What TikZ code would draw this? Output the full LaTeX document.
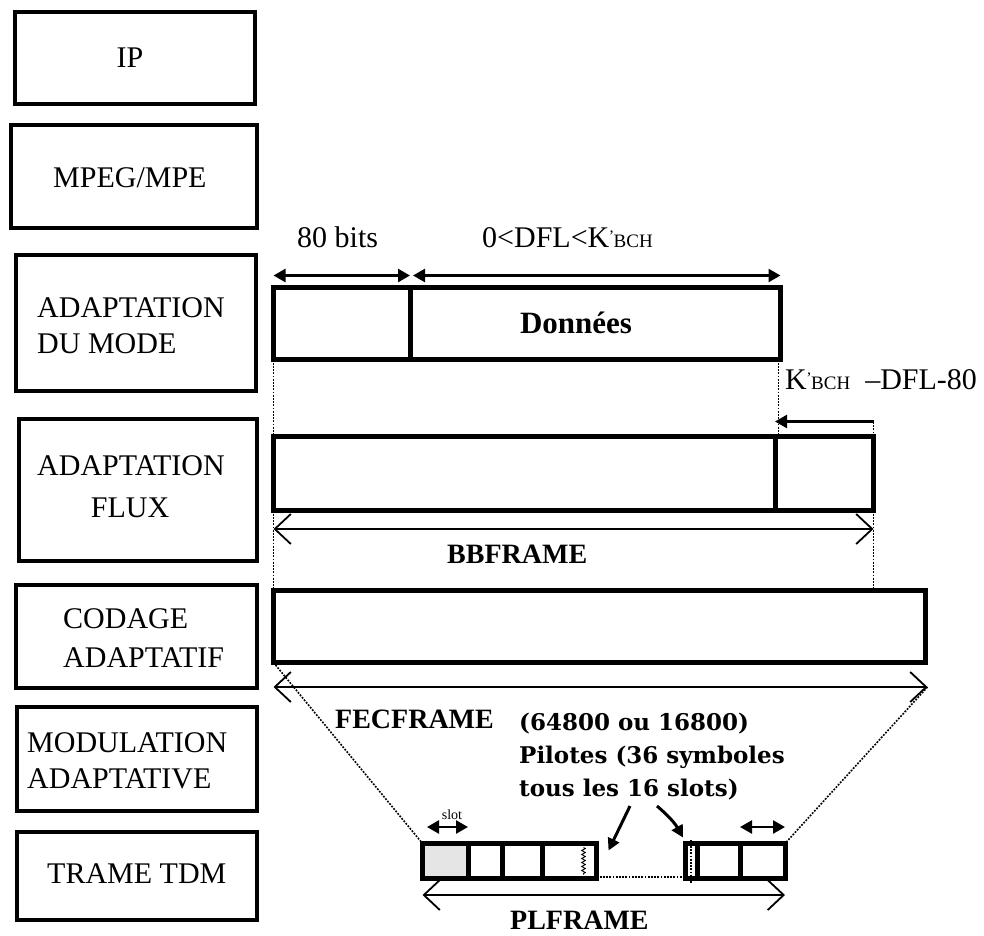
\documentclass[tikz,border=0pt]{standalone}
\usepackage{fontspec}
\setmainfont{Liberation Serif}
\newfontfamily\pilfont{DejaVu Serif}
\usetikzlibrary{arrows.meta,decorations.pathmorphing}
\newcommand{\kbch}{K\kern-0.5pt\raisebox{6pt}{\fontsize{16}{16}\selectfont'}\kern-0.5pt{\fontsize{19}{20}\selectfont BCH}}
\begin{document}
\begin{tikzpicture}[x=1pt,y=-1pt,
  lbox/.style={draw, line width=4.5pt, inner sep=0pt, outer sep=0pt},
  frm/.style={draw, line width=5pt, inner sep=0pt, outer sep=0pt},
  lt/.style={font=\fontsize{30}{36}\selectfont, inner sep=0pt, anchor=base west},
  bt/.style={font=\fontsize{28}{34}\selectfont\bfseries, inner sep=0pt, anchor=base west},
  pt/.style={font=\pilfont\fontsize{23}{33}\selectfont\bfseries, inner sep=0pt, anchor=base west},
  dimarr/.style={line width=2.5pt, {Triangle[length=12pt,width=13pt]}-{Triangle[length=12pt,width=13pt]}},
  openarr/.style={line width=1.8pt, {Straight Barb[length=16pt,width=30pt,line width=1.8pt]}-{Straight Barb[length=16pt,width=30pt,line width=1.8pt]}},
  ptr/.style={line width=3pt, -{Triangle[length=12pt,width=12pt]}},
  dotln/.style={line width=1.6pt, dash pattern=on 1.8pt off 1.4pt},
]
\useasboundingbox (0,0) rectangle (984,935);

% ---- left column of layers
\node[lbox, minimum width=240pt, minimum height=92pt]  (ip)   at (135,58) {};
\node[lbox, minimum width=246pt, minimum height=103pt] (mpeg) at (134,176.5) {};
\node[lbox, minimum width=240pt, minimum height=136pt] (mode) at (136,323) {};
\node[lbox, minimum width=238pt, minimum height=142pt] (flux) at (138,490) {};
\node[lbox, minimum width=241pt, minimum height=103pt] (cod)  at (136.5,636.5) {};
\node[lbox, minimum width=240pt, minimum height=104pt] (modu) at (137,759) {};
\node[lbox, minimum width=240pt, minimum height=88pt]  (tdm)  at (137,876) {};

\node[lt, anchor=base] (tip) at (130,67) {IP};
\node[lt] (tmpeg) at (53,187) {MPEG/MPE};
\node[lt] (tmode1) at (37,317) {ADAPTATION};
\node[lt] (tmode2) at (37,353) {DU MODE};
\node[lt] (tflux1) at (37,475) {ADAPTATION};
\node[lt, anchor=base] (tflux2) at (130,517) {FLUX};
\node[lt] (tcod1) at (63,628) {CODAGE};
\node[lt] (tcod2) at (63,667) {ADAPTATIF};
\node[lt] (tmod1) at (27,752) {MODULATION};
\node[lt] (tmod2) at (27,788) {ADAPTATIVE};
\node[lt] (ttdm) at (47,883) {TRAME TDM};

% ---- mode adaptation frame
\node[frm, minimum width=136.5pt, minimum height=72pt] (hdr) at (341.75,323.5) {};
\node[frm, minimum width=370.5pt, minimum height=72pt] (don) at (595.25,323.5) {};
\node[font=\fontsize{31}{36}\selectfont\bfseries, inner sep=0pt, anchor=base] (tdon) at (576,333) {Données};

\node[lt] (t80) at (297,247) {80 bits};
\node[lt] (tdfl) at (482,247) {0<DFL<\kbch};
\draw[dimarr] ([yshift=12pt]hdr.north west) -- ([yshift=12pt]hdr.north east);
\draw[dimarr] ([xshift=3pt,yshift=12pt]don.north west) -- ([yshift=12pt]don.north east);

% ---- stream adaptation frame
\node[frm, minimum width=501.5pt, minimum height=74pt] (bbA) at (524.25,473.5) {};
\node[frm, minimum width=98.5pt, minimum height=74pt] (bbB) at (824.25,473.5) {};
\node[lt] (tpad) at (785,389) {\kbch\ \ –DFL-80};
\draw[line width=2.5pt, {Triangle[length=12pt,width=13pt]}-] ([yshift=15pt]bbB.north west) -- ([yshift=15pt]bbB.north east);

\draw[dotln] (hdr.south west) -- (bbA.north west);
\draw[dotln] ([xshift=-2pt]don.south east) -- ([xshift=-2pt]don.south east |- bbB.north west);
\draw[dotln] (bbB.north east) -- ([yshift=15pt]bbB.north east);

\draw[openarr] ([yshift=-18.5pt]bbA.south west) -- ([yshift=-18.5pt]bbB.south east);
\node[bt] (tbb) at (447,563) {BBFRAME};

% ---- FEC frame
\node[frm, minimum width=652pt, minimum height=72pt] (fec) at (599.5,626.5) {};
\draw[dotln] (bbA.south west) -- (fec.north west);
\draw[dotln] (bbB.south east) -- (bbB.south east |- fec.north);
\coordinate (fecL) at ([yshift=-24.5pt]fec.south west);
\coordinate (fecR) at ([xshift=2pt,yshift=-24.5pt]fec.south east);
\draw[openarr] (fecL) -- (fecR);
\node[bt] (tfec) at (335,728) {FECFRAME};

\node[pt] (tp1) at (519,730) {(64800 ou 16800)};
\node[pt] (tp2) at (519,763) {Pilotes (36 symboles};
\node[pt] (tp3) at (519,796) {tous les 16 slots)};

% ---- PL frame
\node[frm, fill=black!10, minimum width=45.5pt, minimum height=35pt] (s1) at (445.25,861) {};
\node[frm, minimum width=34pt, minimum height=35pt] (s2) at (485,861) {};
\node[frm, minimum width=40pt, minimum height=35pt] (s3) at (522,861) {};
\node[frm, minimum width=54.5pt, minimum height=35pt] (s4) at (569.25,861) {};
\node[frm, minimum width=12pt, minimum height=35pt] (pil) at (691,861) {};
\node[frm, minimum width=43pt, minimum height=35pt] (s5) at (718.5,861) {};
\node[frm, minimum width=45pt, minimum height=35pt] (s6) at (762.5,861) {};

\draw[line width=0.9pt, decorate, decoration={zigzag, amplitude=1.8pt, segment length=4pt}]
  ([xshift=-13pt,yshift=-4pt]s4.north east) -- ([xshift=-13pt,yshift=4pt]s4.south east);
\draw[dotln] ([yshift=4pt]pil.north) -- ([yshift=-4pt]pil.south);
\draw[dotln] ([yshift=1.5pt]s4.south east) -- ([yshift=1.5pt]pil.south west);

\draw[dotln] (fec.south west) -- (s1.north west);
\draw[dotln] (fecR) -- (s6.north east);

\draw[dimarr] ([xshift=4.5pt,yshift=16.5pt]s1.north west) -- ([yshift=16.5pt]s1.north east);
\node[font=\fontsize{14}{15}\selectfont, inner sep=0pt, anchor=base] (tslot) at (452,819) {slot};
\draw[dimarr] ([yshift=16.5pt]s6.north west) -- ([yshift=16.5pt]s6.north east);

\coordinate (pa1) at (630,806);
\coordinate (pa2) at (657,806);
\draw[ptr] (pa1) -- ([xshift=12pt,yshift=-7pt]s4.north east);
\draw[ptr] (pa2) to[bend left=10] ([xshift=-2pt,yshift=6pt]pil.north west);

\draw[openarr] ([yshift=-16.5pt]s1.south west) -- ([yshift=-16.5pt]s6.south east);
\node[bt] (tpl) at (510,929) {PLFRAME};
\end{tikzpicture}
\end{document}
